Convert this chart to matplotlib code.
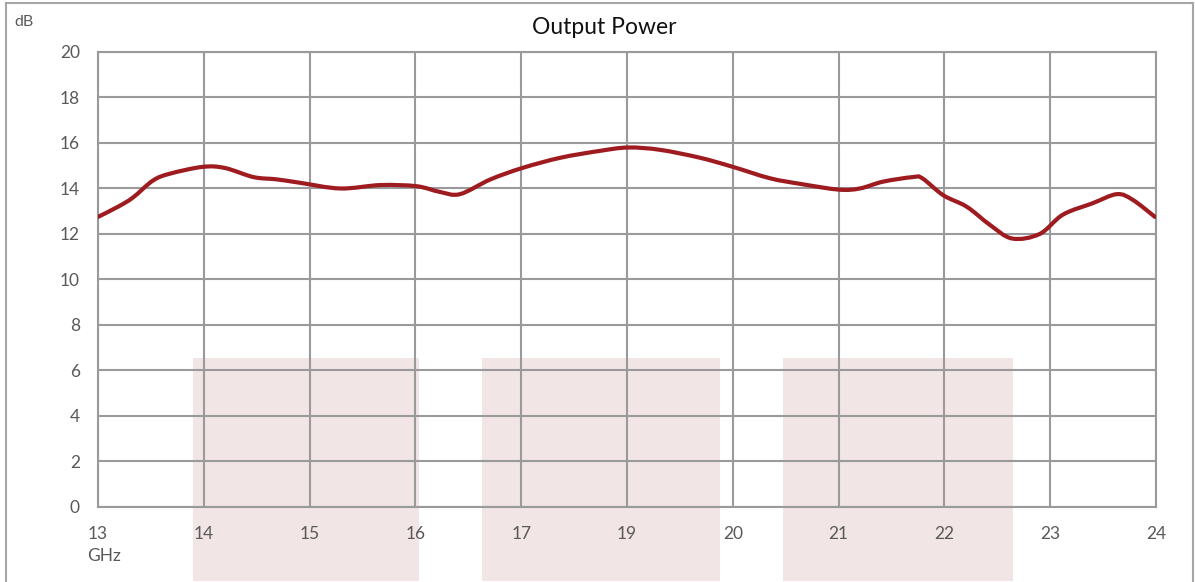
import matplotlib
matplotlib.use("Agg")
import matplotlib.pyplot as plt
from matplotlib.patches import Rectangle, PathPatch
from matplotlib.path import Path
from matplotlib.lines import Line2D

plt.rcParams["font.family"] = ["Lato", "DejaVu Sans"]

# x축 라벨 (원본 그대로: 18 없음, 등간격 카테고리)
x_labels = ["13", "14", "15", "16", "17", "19", "20", "21", "22", "23", "24"]
y_ticks = [0, 2, 4, 6, 8, 10, 12, 14, 16, 18, 20]

# 곡선: 카테고리 위치(0..10) 기준으로 읽은 값
pos = [0.0, 0.19, 0.33, 0.52, 0.68, 0.99, 1.20, 1.47, 1.69, 1.91,
       2.29, 2.67, 3.01, 3.23, 3.42, 3.71, 4.01, 4.37, 4.74, 5.01,
       5.31, 5.69, 6.00, 6.35, 6.64, 7.00, 7.20, 7.42, 7.70, 7.79,
       7.99, 8.21, 8.43, 8.64, 8.90, 9.12, 9.40, 9.63, 9.78, 9.99]
power_db = [12.75, 13.2, 13.6, 14.35, 14.65, 14.95, 14.9, 14.5, 14.4, 14.25,
            14.0, 14.15, 14.1, 13.85, 13.75, 14.4, 14.9, 15.35, 15.65, 15.8,
            15.7, 15.35, 14.95, 14.45, 14.2, 13.95, 14.0, 14.3, 14.5, 14.45,
            13.7, 13.2, 12.4, 11.8, 12.0, 12.85, 13.35, 13.75, 13.5, 12.75]

# 분홍 대역 (시작, 끝) 위치, 높이
bands = [(0.90, 3.03), (3.63, 5.88), (6.47, 8.65)]
band_top = 6.55
band_bottom = -3.25

GRID = "#9a9a9c"
TXT = "#595959"


def smooth_path(xs, ys, t=1 / 6):
    """엑셀식 스무딩 선: Catmull-Rom -> 큐빅 베지어 (데이터 점은 그대로 통과)."""
    pts = list(zip(xs, ys))
    verts = [pts[0]]
    codes = [Path.MOVETO]
    n = len(pts)
    for i in range(n - 1):
        p0 = pts[i - 1] if i > 0 else pts[i]
        p1, p2 = pts[i], pts[i + 1]
        p3 = pts[i + 2] if i + 2 < n else pts[i + 1]
        c1 = (p1[0] + (p2[0] - p0[0]) * t, p1[1] + (p2[1] - p0[1]) * t)
        c2 = (p2[0] - (p3[0] - p1[0]) * t, p2[1] - (p3[1] - p1[1]) * t)
        verts += [c1, c2, p2]
        codes += [Path.CURVE4] * 3
    return Path(verts, codes)


fig = plt.figure(figsize=(11.95, 5.82), dpi=100)
ax = fig.add_axes([0.082, 0.1289, 0.8854, 0.7818])

for x0, x1 in bands:
    ax.add_patch(Rectangle((x0, band_bottom), x1 - x0, band_top - band_bottom,
                           facecolor="#f2e5e5", edgecolor="none",
                           clip_on=False, zorder=0.3))

ax.add_patch(PathPatch(smooth_path(pos, power_db), facecolor="none",
                       edgecolor="#9e1b20", lw=3.0, capstyle="round", zorder=3))

ax.set_xlim(0, 10)
ax.set_ylim(0, 20)
ax.set_xticks(range(len(x_labels)))
ax.set_xticklabels(x_labels)
ax.set_yticks(y_ticks)
ax.tick_params(axis="both", length=0, labelsize=12.5, colors=TXT)
ax.tick_params(axis="x", pad=14)
ax.tick_params(axis="y", pad=13)
ax.grid(True, color=GRID, lw=1.5)
ax.set_axisbelow(True)
ax.patch.set_alpha(0)
for s in ax.spines.values():
    s.set_color(GRID)
    s.set_linewidth(1.5)

fig.text(0.506, 0.952, "Output Power", ha="center", va="center", fontsize=16.5, color="#111111")
fig.text(0.012, 0.963, "dB", ha="left", va="center", fontsize=11.5, color=TXT)
fig.text(0.073, 0.045, "GHz", ha="left", va="center", fontsize=12.5, color=TXT)

# 바깥 테두리 (좌/상/우)
border = dict(color="#a6a6a6", lw=1.5, transform=fig.transFigure)
fig.add_artist(Line2D([0.005, 0.005], [0.0, 0.995], **border))
fig.add_artist(Line2D([0.005, 0.998], [0.995, 0.995], **border))
fig.add_artist(Line2D([0.998, 0.998], [0.0, 0.995], **border))

fig.savefig("out.png", dpi=100)
